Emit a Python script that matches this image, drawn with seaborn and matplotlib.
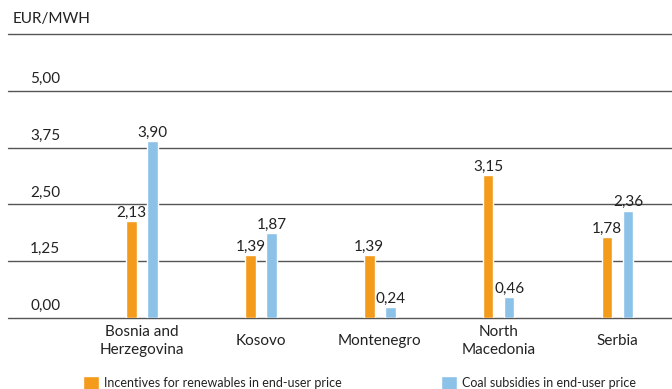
import matplotlib
matplotlib.use("Agg")
import matplotlib.pyplot as plt
import matplotlib.transforms as mtransforms
import seaborn as sns
import pandas as pd

countries = ["Bosnia and\nHerzegovina", "Kosovo", "Montenegro", "North\nMacedonia", "Serbia"]
renewables = [2.13, 1.39, 1.39, 3.15, 1.78]
coal = [3.90, 1.87, 0.24, 0.46, 2.36]
series_names = ["Incentives for renewables in end-user price", "Coal subsidies in end-user price"]
y_ticks = [0.00, 1.25, 2.50, 3.75, 5.00]
unit_label = "EUR/MWH"

ORANGE = "#F59B1C"
BLUE = "#8CC2E8"
GRID = "#555555"
TEXT = "#222222"

df = pd.DataFrame({
    "country": countries * 2,
    "value": renewables + coal,
    "series": [series_names[0]] * len(countries) + [series_names[1]] * len(countries),
})

sns.set_theme(style="white")
plt.rcParams["font.family"] = ["Lato", "DejaVu Sans"]

FS = 11

fig = plt.figure(figsize=(6.72, 3.89), dpi=100)
ax = fig.add_axes([8 / 672, 1 - 318 / 389, 664 / 672, (318 - 34) / 389])

sns.barplot(data=df, x="country", y="value", hue="series", order=countries,
            hue_order=series_names, palette=[ORANGE, BLUE], width=0.354, gap=0.5,
            saturation=1, ax=ax, legend=True)

ax.set_xlim(-1.13, 4.46)
ax.set_ylim(0, 6.25)

# horizontal rules, including the top rule under the unit label
for v in y_ticks + [6.25]:
    ax.axhline(v, color=GRID, lw=1.0, zorder=0, clip_on=False)

for sp in ax.spines.values():
    sp.set_visible(False)
ax.set_yticks([])
ax.set_xlabel("")
ax.set_ylabel("")
ax.tick_params(axis="x", length=0, pad=16.5, labelsize=FS, colors=TEXT)
for lbl in ax.get_xticklabels():
    lbl.set_verticalalignment("center")
    lbl.set_linespacing(1.35)

# value tick labels sitting above each rule
trans = mtransforms.blended_transform_factory(ax.transAxes, ax.transData)
lift = mtransforms.ScaledTranslation(0, 3.5 / 72, fig.dpi_scale_trans)
for v in y_ticks:
    ax.text(0.056, v, f"{v:.2f}".replace(".", ","), transform=trans + lift,
            ha="center", va="bottom", fontsize=FS, color=TEXT)
ax.text(0.0, 6.25, unit_label,
        transform=trans + mtransforms.ScaledTranslation(3 / 72, 6 / 72, fig.dpi_scale_trans),
        ha="left", va="bottom", fontsize=FS, color=TEXT)

# value labels over bars
for cont in ax.containers:
    ax.bar_label(cont, labels=[f"{b.get_height():.2f}".replace(".", ",") for b in cont],
                 padding=1, fontsize=FS, color=TEXT)

handles, labels = ax.get_legend_handles_labels()
ax.get_legend().remove()
fig.legend(handles, labels, loc="center left", bbox_to_anchor=(83 / 672, 6 / 389),
           ncol=2, frameon=False, handlelength=1.28, handleheight=1.28, handletextpad=0.4,
           columnspacing=7.9, borderpad=0, borderaxespad=0, fontsize=9,
           labelcolor=TEXT)

fig.savefig("out.png", dpi=100)
